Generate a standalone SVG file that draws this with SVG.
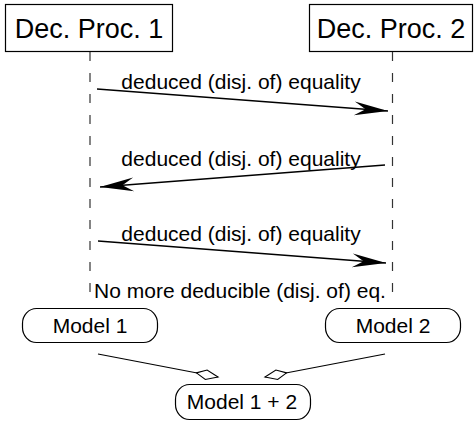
<svg xmlns="http://www.w3.org/2000/svg" width="474" height="422" viewBox="0 0 474 422">
<style>
text{font-family:"Liberation Sans",Arial,sans-serif;fill:#000}
.title{font-size:27px;text-anchor:middle}
.lbl{font-size:21px;text-anchor:middle}
.box{fill:#fff;stroke:#000;stroke-width:1.2}
.life{stroke:#333;stroke-width:1.2;stroke-dasharray:9 12;fill:none}
.msg{stroke:#000;stroke-width:1.3;fill:none;marker-end:url(#ah)}
.agg{stroke:#000;stroke-width:1.2;fill:none;marker-end:url(#dia)}
</style>
<defs>
<marker id="ah" markerUnits="userSpaceOnUse" orient="auto" refX="0" refY="0" markerWidth="40" markerHeight="20" viewBox="-30 -8 32 16" overflow="visible">
<path d="M0,0 L-27,-5.5 L-18,0 L-27,5.5 Z" fill="#000"/>
</marker>
<marker id="dia" markerUnits="userSpaceOnUse" orient="auto" refX="0" refY="0" markerWidth="30" markerHeight="14" viewBox="-24 -7 26 14" overflow="visible">
<path d="M0,0 L-12,-4.8 L-22,0 L-12,4.8 Z" fill="#fff" stroke="#000" stroke-width="1.1"/>
</marker>
</defs>
<g id="proc1">
<rect class="box" x="5.5" y="4.5" width="167" height="47"/>
<text class="title" x="89" y="37.5">Dec. Proc. 1</text>
</g>
<g id="proc2">
<rect class="box" x="309.5" y="4.5" width="163" height="47"/>
<text class="title" x="391" y="37.5">Dec. Proc. 2</text>
</g>
<g id="lifelines">
<line class="life" x1="90" y1="52" x2="90" y2="303"/>
<line class="life" x1="392.5" y1="52" x2="392.5" y2="303"/>
</g>
<g id="connectors">
<line class="msg" x1="97" y1="89" x2="388" y2="111"/>
<line class="msg" x1="385" y1="165" x2="100" y2="187"/>
<line class="msg" x1="98" y1="241" x2="386" y2="263"/>
<line class="agg" x1="98" y1="354" x2="218" y2="377"/>
<line class="agg" x1="385" y1="354" x2="265" y2="377"/>
</g>
<g id="labels">
<text class="lbl" x="241" y="89">deduced (disj. of) equality</text>
<text class="lbl" x="241" y="166">deduced (disj. of) equality</text>
<text class="lbl" x="241" y="241">deduced (disj. of) equality</text>
<text class="lbl" x="240" y="298">No more deducible (disj. of) eq.</text>
</g>
<g id="model1">
<rect class="box" x="22.5" y="308.5" width="135" height="34" rx="14" ry="15"/>
<text class="lbl" x="90" y="333">Model 1</text>
</g>
<g id="model2">
<rect class="box" x="325.5" y="308.5" width="135" height="34" rx="14" ry="15"/>
<text class="lbl" x="393" y="333">Model 2</text>
</g>
<g id="model12">
<rect class="box" x="175.5" y="384.5" width="135" height="35" rx="14" ry="15"/>
<text class="lbl" x="242" y="409">Model 1 + 2</text>
</g>
</svg>
